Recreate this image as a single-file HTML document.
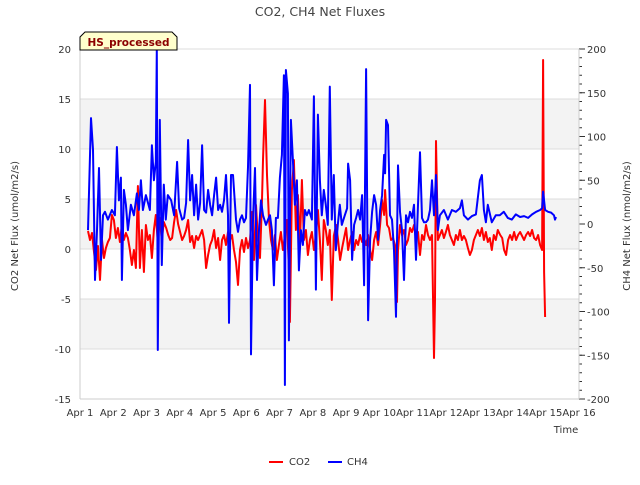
<!DOCTYPE html>
<html><head><meta charset="utf-8"><style>
body{margin:0;background:#fff;}
svg{font-family:"DejaVu Sans","Liberation Sans",sans-serif;}
</style></head><body>
<svg id="chart" width="640" height="480" viewBox="0 0 640 480" xmlns="http://www.w3.org/2000/svg">
<g id="bands"></g><g id="grid"></g><g id="series"></g><g id="axes"></g>
<text x="320" y="16" text-anchor="middle" font-size="12.5" fill="#444">CO2, CH4 Net Fluxes</text>
<text transform="translate(18,226) rotate(-90)" text-anchor="middle" font-size="10" fill="#333">CO2 Net Flux (umol/m2/s)</text>
<text transform="translate(630,226) rotate(-90)" text-anchor="middle" font-size="10" fill="#333">CH4 Net Flux (nmol/m2/s)</text>
<text x="566" y="433" text-anchor="middle" font-size="10" fill="#333">Time</text>
<g>
<polygon points="80,50 80,37 85,32 172,32 177,37 177,50" fill="#ffffcc" stroke="#000" stroke-width="1"/>
<text x="128.5" y="46" text-anchor="middle" font-size="10.5" font-weight="bold" fill="#8b0000">HS_processed</text>
</g>
<g>
<g><line x1="269" y1="462" x2="283" y2="462" stroke="#f00" stroke-width="2"/><text x="289" y="465" font-size="10" fill="#333">CO2</text></g>
<g><line x1="328" y1="462" x2="342" y2="462" stroke="#00f" stroke-width="2"/><text x="347" y="465" font-size="10" fill="#333">CH4</text></g>
</g>
</svg>
<script>
const xTickLabels=["Apr 1","Apr 2","Apr 3","Apr 4","Apr 5","Apr 6","Apr 7","Apr 8","Apr 9","Apr 10","Apr 11","Apr 12","Apr 13","Apr 14","Apr 15","Apr 16"];
const leftTicks=[-15,-10,-5,0,5,10,15,20];
const rightTicks=[-200,-150,-100,-50,0,50,100,150,200];
const co2Time=[.24,.30,.36,.42,.48,.54,.60,.66,.72,.78,.84,.90,.96,1.02,1.08,1.14,1.20,1.26,1.32,1.38,1.44,1.50,1.56,1.62,1.68,1.74,1.80,1.86,1.92,1.98,2.04,2.10,2.16,2.22,2.28,2.34,2.40,2.46,2.52,2.59,2.65,2.71,2.77,2.83,2.89,2.95,3.01,3.07,3.13,3.19,3.25,3.31,3.37,3.43,3.49,3.55,3.61,3.67,3.73,3.79,3.85,3.91,3.97,4.03,4.09,4.15,4.21,4.27,4.33,4.39,4.45,4.51,4.57,4.63,4.69,4.75,4.81,4.87,4.93,4.99,5.05,5.11,5.17,5.23,5.29,5.35,5.41,5.47,5.50,5.56,5.62,5.68,5.74,5.80,5.86,5.92,5.98,6.04,6.10,6.16,6.22,6.28,6.31,6.37,6.43,6.49,6.55,6.61,6.67,6.73,6.79,6.85,6.91,6.97,7.03,7.09,7.15,7.21,7.27,7.33,7.39,7.45,7.51,7.57,7.63,7.70,7.76,7.82,7.88,7.94,8.00,8.06,8.12,8.18,8.24,8.30,8.36,8.42,8.48,8.54,8.60,8.66,8.72,8.78,8.84,8.90,8.96,9.02,9.08,9.14,9.17,9.23,9.29,9.35,9.41,9.47,9.53,9.56,9.62,9.68,9.74,9.80,9.86,9.92,9.98,10.04,10.10,10.16,10.22,10.28,10.34,10.40,10.46,10.52,10.58,10.64,10.67,10.70,10.76,10.82,10.88,10.94,11.00,11.06,11.12,11.18,11.24,11.30,11.36,11.42,11.48,11.54,11.60,11.66,11.72,11.78,11.84,11.90,11.96,12.02,12.08,12.14,12.20,12.26,12.32,12.38,12.44,12.50,12.56,12.63,12.69,12.75,12.81,12.87,12.93,12.99,13.05,13.11,13.17,13.23,13.29,13.35,13.41,13.47,13.53,13.59,13.65,13.71,13.77,13.83,13.89,13.92,13.95,13.98];
const co2Values=[1.8,0.9,1.6,-0.3,-2.1,0.3,-3.1,0.9,-0.9,0.1,0.7,1.1,3.4,2.9,1.1,2.1,0.7,2.4,0.9,1.6,1.1,-0.1,-1.6,-0.1,-1.9,6.3,-1.9,1.9,-2.3,2.4,0.9,1.4,-0.9,1.9,3.4,0.7,3.1,0.9,2.7,2.1,1.4,0.9,1.1,2.7,3.9,2.5,1.7,0.9,1.3,1.9,2.9,0.7,1.3,0.1,1.3,0.9,1.4,1.9,0.9,-1.9,-0.6,0.4,0.9,1.9,0.1,1.1,-1.1,0.9,1.4,0.4,1.7,0.9,1.4,-0.1,-1.3,-3.6,-0.1,0.9,-0.3,1.1,0.1,0.9,3.7,-1.1,4.4,0.9,-0.9,4.9,8.9,14.9,7.4,2.9,0.9,-0.1,1.4,-1.1,0.4,1.7,-0.1,1.3,2.9,-2.1,-7.3,5.9,8.9,1.9,5.4,0.4,6.9,0.9,1.9,-0.6,0.9,1.7,-0.1,1.4,3.9,0.9,-3.1,2.9,1.9,0.4,1.9,-5.1,1.3,2.4,0.9,-1.1,0.1,1.1,2.1,-0.1,0.9,1.7,-0.1,0.9,0.4,1.4,0.7,1.1,0.4,1.4,-0.1,-1.1,0.9,1.7,0.4,2.4,4.9,3.4,5.9,2.4,2.1,0.9,1.1,0.4,-5.3,-0.1,2.4,1.4,1.9,0.4,0.9,2.1,1.7,2.4,1.1,1.7,-0.6,1.4,0.9,2.4,1.4,0.9,1.4,-10.9,-5.1,10.8,0.9,1.4,1.9,1.1,1.7,2.4,1.4,0.9,0.4,1.4,0.9,1.9,0.9,1.3,0.9,0.1,-0.6,-0.1,0.9,1.4,1.9,1.3,2.1,0.9,1.7,0.7,1.1,-0.1,1.4,0.9,1.9,1.4,1.1,-0.1,-0.6,0.9,1.4,0.9,1.7,0.9,1.4,1.7,1.3,0.9,1.4,1.7,1.3,1.9,1.1,0.9,1.4,0.4,-0.1,18.9,-2.3,-6.8];
const ch4Time=[.24,.33,.39,.45,.51,.57,.63,.69,.75,.84,.96,1.05,1.11,1.17,1.23,1.26,1.32,1.38,1.44,1.53,1.62,1.71,1.77,1.83,1.89,1.98,2.10,2.16,2.22,2.28,2.31,2.34,2.40,2.46,2.52,2.58,2.64,2.74,2.83,2.92,2.98,3.07,3.13,3.19,3.25,3.31,3.37,3.43,3.49,3.55,3.61,3.67,3.73,3.79,3.85,3.91,3.97,4.03,4.09,4.15,4.21,4.27,4.33,4.39,4.45,4.48,4.54,4.60,4.69,4.75,4.81,4.87,4.93,4.99,5.05,5.11,5.14,5.20,5.26,5.32,5.38,5.44,5.50,5.59,5.65,5.71,5.77,5.83,5.89,5.95,6.01,6.07,6.13,6.16,6.19,6.25,6.28,6.34,6.40,6.46,6.52,6.58,6.64,6.70,6.76,6.82,6.88,6.97,7.03,7.09,7.15,7.21,7.27,7.33,7.39,7.45,7.51,7.57,7.63,7.69,7.75,7.81,7.87,7.96,8.03,8.06,8.12,8.18,8.24,8.30,8.36,8.42,8.48,8.54,8.60,8.66,8.72,8.78,8.84,8.90,8.96,9.02,9.08,9.14,9.17,9.20,9.26,9.32,9.38,9.44,9.50,9.56,9.62,9.68,9.74,9.80,9.86,9.92,9.98,10.04,10.10,10.16,10.22,10.28,10.34,10.40,10.46,10.52,10.58,10.64,10.70,10.76,10.82,10.94,11.06,11.18,11.30,11.42,11.48,11.54,11.66,11.78,11.90,12.02,12.08,12.14,12.20,12.26,12.38,12.50,12.62,12.74,12.86,12.98,13.10,13.23,13.35,13.47,13.59,13.71,13.83,13.89,13.92,13.98,14.07,14.16,14.25,14.28,14.31];
const ch4Values=[-7,121,85,-64,-7,64,-41,10,14,5,16,10,88,27,53,-64,39,22,-7,22,10,35,16,50,16,33,16,90,50,71,200,-144,119,-47,45,5,33,27,10,71,18,5,7,24,96,27,56,10,45,5,24,90,16,13,39,22,10,33,53,16,22,14,27,56,10,-113,56,56,5,-9,5,10,2,7,65,159,-149,5,64,-64,-7,27,10,-1,5,10,-7,-70,7,7,53,79,170,-184,176,149,-133,119,73,22,50,-53,-7,-24,16,10,16,5,146,-75,125,50,10,39,22,-1,157,5,56,-30,-1,22,-1,10,18,69,50,-41,-1,7,16,5,33,-70,177,-110,-18,14,33,22,-18,16,33,79,58,119,113,10,5,-30,-106,67,14,-7,-64,10,2,14,7,22,-41,22,82,7,2,2,5,16,50,10,56,-7,10,16,5,16,14,18,27,10,5,9,11,50,56,16,2,22,2,10,10,14,7,5,11,8,9,7,11,14,16,18,37,16,14,13,10,5,8];

const NS="http://www.w3.org/2000/svg";
const L=80,R=579,T=49,B=399;
function xScale(t){return L+(t/15)*(R-L);}
function yLeft(v){return T+(20-v)/35*(B-T);}
function yRight(v){return T+(200-v)/400*(B-T);}
function mk(tag,attrs,parent){const e=document.createElementNS(NS,tag);for(const k in attrs)e.setAttribute(k,attrs[k]);parent.appendChild(e);return e;}
const bands=document.getElementById('bands'),grid=document.getElementById('grid'),series=document.getElementById('series'),axes=document.getElementById('axes');
mk('rect',{x:L,y:T,width:R-L,height:B-T,fill:'#fff'},bands);
[[10,15],[0,5],[-10,-5]].forEach(b=>{
 const r=mk('rect',{x:L,y:yLeft(b[1]),width:R-L,height:yLeft(b[0])-yLeft(b[1]),fill:'#f3f3f3'},bands);
 
 
});
leftTicks.forEach(v=>{
 const y=yLeft(v);
 const g=mk('line',{x1:L,x2:R,y1:y,y2:y,stroke:'#ddd','stroke-width':1},grid);
 
 
 const t=mk('text',{x:L-9,y:y+4,'text-anchor':'end','font-size':10,fill:'#333'},axes);
 
 
 t.textContent=v;
});
rightTicks.forEach(v=>{
 const y=yRight(v);
 mk('line',{x1:R,x2:R+6,y1:y,y2:y,stroke:'#333','stroke-width':1},axes);
 const t=mk('text',{x:R+8,y:y+4,'text-anchor':'start','font-size':10,fill:'#333'},axes);
 
 
 t.textContent=v;
});
for(let v=-200;v<=200;v+=10){const y=yRight(v);mk('line',{x1:R,x2:R+3,y1:y,y2:y,stroke:'#333','stroke-width':1},axes);}
xTickLabels.forEach((lab,i)=>{
 const x=xScale(i);
 const t=mk('text',{x:x,y:416,'text-anchor':'middle','font-size':10,fill:'#333'},axes);
 
 
 t.textContent=lab;
});
mk('line',{x1:L,x2:L,y1:T,y2:B,stroke:'#ccc','stroke-width':1},axes);
mk('line',{x1:L,x2:R,y1:B,y2:B,stroke:'#ccc','stroke-width':1},axes);
mk('line',{x1:R,x2:R,y1:T,y2:B,stroke:'#ccc','stroke-width':1},axes);
function pathD(ts,vs,ys){return ts.map((t,i)=>(i?'L':'M')+xScale(t).toFixed(1)+','+ys(vs[i]).toFixed(1)).join('');}
const pc=mk('path',{d:pathD(co2Time,co2Values,yLeft),fill:'none',stroke:'#f00','stroke-width':2,'stroke-linejoin':'round'},series);


const ph=mk('path',{d:pathD(ch4Time,ch4Values,yRight),fill:'none',stroke:'#00f','stroke-width':2,'stroke-linejoin':'round'},series);


</script>
</body></html>
